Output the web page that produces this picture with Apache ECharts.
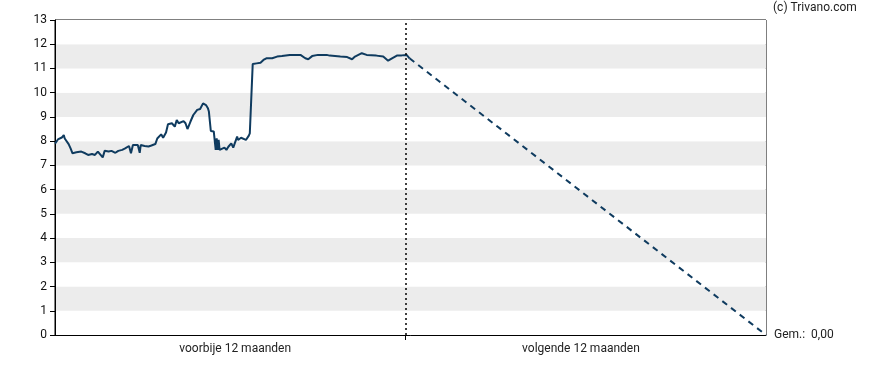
<!DOCTYPE html>
<html>
<head>
<meta charset="utf-8">
<script src="https://cdn.jsdelivr.net/npm/echarts@6/dist/echarts.min.js"></script>
<style>
html,body{margin:0;padding:0;background:#fff;}
#c{width:888px;height:370px;}
</style>
</head>
<body>
<div id="c"></div>
<script>
// x unit: days on a two-year axis (0..730); divider ("today") at day 360
const periodLabels = ['voorbije 12 maanden', 'volgende 12 maanden'];
const labelDays = [185, 540];
const todayDay = 360;
const yTicks = [0,1,2,3,4,5,6,7,8,9,10,11,12,13];

const histDays = [0,3,7,9,10,14,16,18,22,27,31,34,38,41,44,46,49,51,55,58,62,65,69,72,74,76,78,80,82,85,87,88,92,96,99,103,105,109,111,114,116,120,122,123,125,127,129,132,134,136,139,142,146,149,151,152,155,157,158,160,163,164,165,166,167,168,169,171,174,176,178,180,181,183,187,188,191,193,196,199,200,202,203,207,211,214,217,223,228,233,241,252,257,260,264,270,279,282,293,300,305,308,315,320,330,337,342,346,351,356,361,364];
const histVals = [7.9,8.07,8.15,8.25,8.11,7.88,7.7,7.5,7.54,7.57,7.5,7.43,7.47,7.43,7.57,7.5,7.33,7.6,7.57,7.6,7.52,7.6,7.64,7.7,7.66,7.8,7.5,7.84,7.78,7.84,7.52,7.84,7.8,7.78,7.82,7.88,8.11,8.28,8.14,8.36,8.7,8.74,8.72,8.6,8.87,8.74,8.67,8.83,8.74,8.5,8.8,9.08,9.29,9.33,9.36,9.56,9.49,9.36,9.22,8.42,8.4,8.36,7.64,8.12,7.64,8.05,7.64,7.68,7.73,7.64,7.77,7.7,7.91,7.73,8.19,8.05,8.14,8.09,8.05,8.23,8.32,8.28,11.18,11.21,11.24,11.35,11.42,11.42,11.49,11.51,11.56,11.56,11.42,11.38,11.51,11.56,11.56,11.53,11.49,11.47,11.38,11.49,11.63,11.56,11.53,11.49,11.32,11.42,11.53,11.54,11.56,11.42];

const forecastDays = [364, 730];
const forecastVals = [11.42, 0];
const avgText = 'Gem.:  0,00';
const copyright = '(c) Trivano.com';

const lineColor = '#0f3b5f';
const font = 'Roboto, "Liberation Sans", sans-serif';

const chart = echarts.init(document.getElementById('c'), null, {renderer: 'canvas'});
chart.setOption({
  animation: false,
  backgroundColor: '#ffffff',
  grid: {left: 55, right: 122, top: 20, bottom: 35, show: true, borderColor: '#000', borderWidth: 1, backgroundColor: 'transparent'},
  xAxis: {
    type: 'value', min: 0, max: 730,
    axisLine: {show: true, onZero: false, lineStyle: {color: '#000', width: 1}},
    axisTick: {show: true, customValues: [todayDay], length: 5, lineStyle: {color: '#000', width: 1}},
    axisLabel: {
      customValues: labelDays, margin: 8, color: '#222', fontSize: 12, fontFamily: font,
      formatter: v => v < todayDay ? periodLabels[0] : periodLabels[1]
    },
    splitLine: {show: false}
  },
  yAxis: {
    type: 'value', min: 0, max: 13, interval: 1,
    axisLine: {show: true, lineStyle: {color: '#000', width: 1}},
    axisTick: {show: true, length: 5, lineStyle: {color: '#000'}},
    axisLabel: {margin: 8, color: '#111', fontSize: 12, fontFamily: font,
      formatter: v => yTicks.includes(v) ? String(v) : ''},
    splitLine: {show: false},
    splitArea: {show: true, areaStyle: {color: ['#ffffff', '#ececec']}}
  },
  series: [
    {
      type: 'line', symbol: 'none', silent: true,
      data: histDays.map((d, i) => [d, histVals[i]]),
      lineStyle: {color: lineColor, width: 2},
      markLine: {
        silent: true, symbol: ['none', 'none'], label: {show: false},
        lineStyle: {color: '#000', type: [2, 3], width: 1.5},
        data: [{xAxis: todayDay}]
      }
    },
    {
      type: 'line', symbol: 'none', silent: true,
      data: forecastDays.map((d, i) => [d, forecastVals[i]]),
      lineStyle: {color: lineColor, width: 2, type: [6, 5]}
    }
  ],
  graphic: [
    {type: 'text', left: 773, top: 2, style: {text: copyright, fill: '#222', font: '12px ' + font}},
    {type: 'text', left: 774, top: 329, style: {text: avgText, fill: '#222', font: '12px ' + font}}
  ]
});
</script>
</body>
</html>
